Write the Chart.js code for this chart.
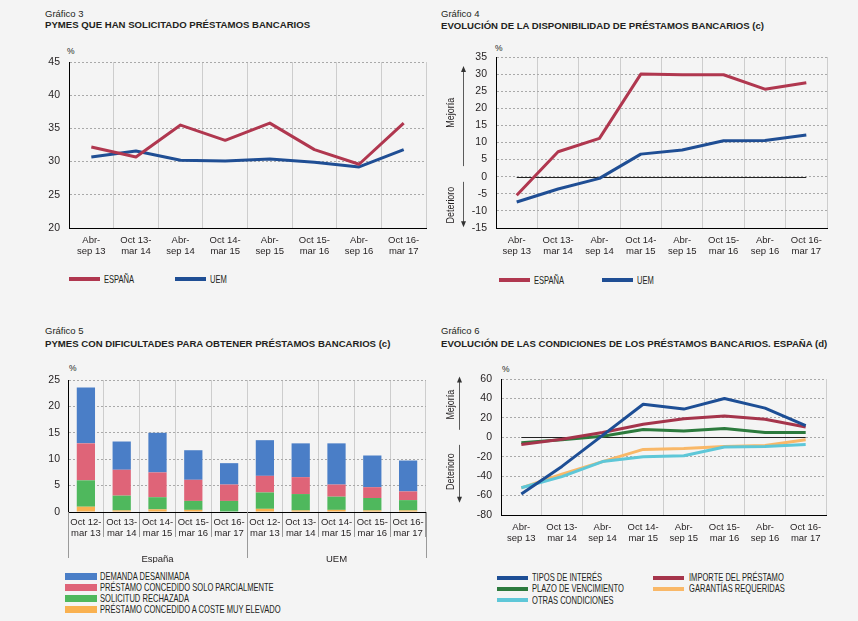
<!DOCTYPE html>
<html>
<head>
<meta charset="utf-8">
<script src="https://cdn.jsdelivr.net/npm/chart.js"></script>
<style>
html,body{margin:0;padding:0;background:#f4f4f4;}
#page{position:relative;width:858px;height:621px;background:#f4f4f4;overflow:hidden;font-family:"Liberation Sans",Arial,Helvetica,sans-serif;color:#231f20;}
.gnum{position:absolute;font-size:9.5px;line-height:11px;white-space:nowrap;}
.gtitle{position:absolute;font-size:9.6px;line-height:11px;font-weight:bold;white-space:nowrap;}
.pct{position:absolute;font-size:8.5px;line-height:10px;}
canvas{position:absolute;}
.legtxt{position:absolute;font-family:"Liberation Sans",Arial,sans-serif;font-size:10.5px;line-height:11px;white-space:nowrap;color:#231f20;transform:scaleX(0.72);transform-origin:0 50%;}
.sw{position:absolute;}
</style>
</head>
<body>
<div id="page">
  <div class="gnum" style="left:45px;top:8px;">Gráfico 3</div>
  <div class="gtitle" style="left:45px;top:19px;">PYMES QUE HAN SOLICITADO PRÉSTAMOS BANCARIOS</div>
  <div class="gnum" style="left:441px;top:8px;">Gráfico 4</div>
  <div class="gtitle" style="left:441px;top:20px;">EVOLUCIÓN DE LA DISPONIBILIDAD DE PRÉSTAMOS BANCARIOS (c)</div>
  <div class="gnum" style="left:45px;top:325px;">Gráfico 5</div>
  <div class="gtitle" style="left:45px;top:338px;">PYMES CON DIFICULTADES PARA OBTENER PRÉSTAMOS BANCARIOS (c)</div>
  <div class="gnum" style="left:441px;top:325px;">Gráfico 6</div>
  <div class="gtitle" style="left:441px;top:338px;">EVOLUCIÓN DE LAS CONDICIONES DE LOS PRÉSTAMOS BANCARIOS. ESPAÑA (d)</div>

  <div class="pct" style="left:67px;top:46px;">%</div>
  <div class="pct" style="left:495px;top:43px;">%</div>
  <div class="pct" style="left:69px;top:363px;">%</div>
  <div class="pct" style="left:502px;top:364px;">%</div>

  <canvas id="c3" width="400" height="225" style="left:30px;top:40px;"></canvas>
  <canvas id="c4" width="420" height="230" style="left:436px;top:35px;"></canvas>
  <canvas id="c5" width="400" height="205" style="left:30px;top:358px;"></canvas>
  <canvas id="c6" width="420" height="195" style="left:436px;top:355px;"></canvas>
  <div id="legends"></div>
</div>
<script>
// ---------- DATA ----------
const periods = [['Abr-','sep 13'],['Oct 13-','mar 14'],['Abr-','sep 14'],['Oct 14-','mar 15'],['Abr-','sep 15'],['Oct 15-','mar 16'],['Abr-','sep 16'],['Oct 16-','mar 17']];

// Gráfico 3
const solicitadoEspana = [32.2, 30.7, 35.5, 33.2, 35.8, 31.8, 29.6, 35.8];
const solicitadoUEM    = [30.7, 31.6, 30.2, 30.1, 30.4, 29.9, 29.2, 31.8];

// Gráfico 4
const disponibilidadEspana = [-5.4, 7.3, 11.2, 30.0, 29.8, 29.8, 25.6, 27.5];
const disponibilidadUEM    = [-7.4, -3.6, -0.5, 6.6, 7.8, 10.5, 10.6, 12.2];

// Gráfico 5
const periods5 = [['Oct 12-','mar 13'],['Oct 13-','mar 14'],['Oct 14-','mar 15'],['Oct 15-','mar 16'],['Oct 16-','mar 17']];
const groups5 = ['España','UEM'];
const categories5 = periods5.concat(periods5);
const demandaDesanimada   = [10.6, 5.35, 7.5, 5.6, 4.05, 6.75, 6.4, 7.8, 6.0, 5.85];
const concedidoParcial    = [7.0, 4.9, 4.7, 4.0, 3.1, 3.15, 3.2, 2.3, 2.05, 1.65];
const solicitudRechazada  = [5.0, 2.8, 2.3, 1.7, 2.0, 3.1, 3.1, 2.5, 2.35, 1.95];
const costeMuyElevado     = [1.0, 0.3, 0.5, 0.4, 0.1, 0.6, 0.3, 0.4, 0.3, 0.3];

// Gráfico 6
const tiposInteres   = [-58.5, -30, 2, 34, 29, 40, 30, 12];
const importePrestamo = [-7.5, -2, 5, 13.5, 19, 22, 18.5, 10.5];
const plazoVencimiento = [-5.5, -2.5, 1, 8, 6.5, 9, 5, 5];
const garantias      = [-52, -38, -25, -12.5, -11.5, -9.5, -8.5, -2.5];
const otrasCondiciones = [-52, -40.5, -25, -20, -19, -10, -9.5, -7.5];

// ---------- STYLE ----------
const FONT = '"Liberation Sans", Arial, sans-serif';
const TXT = '#231f20';
const RED = '#b0374f', BLUE = '#1f4e94';
const VGRID = '#cdcdcd', HGRID = '#a9a9a9';

Chart.defaults.font.family = FONT;
Chart.defaults.color = TXT;

const zeroLine = {
  id:'zeroLine',
  beforeDatasetsDraw(chart){
    const {ctx, scales:{x,y}} = chart;
    const n = chart.data.labels.length;
    const yy = Math.round(y.getPixelForValue(0)) + 0.5;
    ctx.save();
    ctx.strokeStyle = '#222'; ctx.lineWidth = 1;
    ctx.beginPath();
    ctx.moveTo(x.getPixelForValue(0), yy);
    ctx.lineTo(x.getPixelForValue(n-1), yy);
    ctx.stroke();
    ctx.restore();
  }
};

function sideArrows(cfg){
  return {
    id:'sideArrows',
    afterDraw(chart){
      const {ctx, scales:{y}, chartArea} = chart;
      const ax = Math.round(chartArea.left - cfg.arrowOffset) + 0.5;
      const tx = chartArea.left - cfg.textOffset;
      ctx.save();
      ctx.strokeStyle = '#333'; ctx.fillStyle = '#333'; ctx.lineWidth = 0.8;
      cfg.items.forEach(it => {
        const y1 = y.getPixelForValue(it.from), y2 = y.getPixelForValue(it.to);
        const dir = y2 < y1 ? -1 : 1;
        ctx.beginPath(); ctx.moveTo(ax, y1); ctx.lineTo(ax, y2 - dir*3); ctx.stroke();
        ctx.beginPath(); ctx.moveTo(ax, y2); ctx.lineTo(ax - 2.5, y2 - dir*6); ctx.lineTo(ax + 2.5, y2 - dir*6); ctx.closePath(); ctx.fill();
        const ym = y.getPixelForValue(it.textAt);
        ctx.save();
        ctx.translate(tx, ym); ctx.rotate(-Math.PI/2); ctx.scale(0.85, 1);
        ctx.font = '10.5px ' + FONT;
        ctx.fillStyle = TXT; ctx.textAlign = 'center'; ctx.textBaseline = 'middle';
        ctx.fillText(it.label, 0, 0);
        ctx.restore();
      });
      ctx.restore();
    }
  };
}

const groupLines = {
  id:'groupLines',
  afterDraw(chart){
    const {ctx, scales:{x}, chartArea} = chart;
    const per = periods5.length;
    const bounds = [x.left];
    for (let g = 1; g < groups5.length; g++) bounds.push((x.getPixelForValue(g*per-1) + x.getPixelForValue(g*per))/2);
    bounds.push(x.right);
    ctx.save();
    ctx.strokeStyle = '#9a9a9a'; ctx.lineWidth = 1;
    bounds.forEach(b => {
      const bx = Math.round(b) + 0.5;
      ctx.beginPath(); ctx.moveTo(bx, chartArea.bottom); ctx.lineTo(bx, chartArea.bottom + 46); ctx.stroke();
    });
    ctx.restore();
  }
};

const fixW = w => s => { s.width = w; };
const fixH = h => s => { s.height = h; };

function lineOptions(yMin, yMax, step, yW, xH, pad){
  return {
    responsive:false, animation:false, devicePixelRatio:1,
    layout:{padding:pad},
    plugins:{legend:{display:false}, tooltip:{enabled:false}},
    elements:{point:{radius:0}, line:{tension:0, borderWidth:3, borderJoinStyle:'round', borderCapStyle:'butt'}},
    scales:{
      x:{
        offset:true,
        grid:{offset:true, color:VGRID, lineWidth:1, drawTicks:false},
        border:{color:'#000', width:1},
        ticks:{padding:7, font:{size:9.5, lineHeight:1.18}, color:TXT, maxRotation:0, autoSkip:false},
        afterFit:fixH(xH)
      },
      y:{
        min:yMin, max:yMax,
        grid:{color:HGRID, lineWidth:1, drawTicks:false},
        border:{color:'#000', width:1, dash:[2,2]},
        ticks:{stepSize:step, padding:9, font:{size:10.5}, color:TXT},
        afterFit:fixW(yW)
      }
    }
  };
}

// Gráfico 3
new Chart(document.getElementById('c3'), {
  type:'line',
  data:{labels:periods, datasets:[
    {label:'ESPAÑA', data:solicitadoEspana, borderColor:RED},
    {label:'UEM', data:solicitadoUEM, borderColor:BLUE}
  ]},
  options:lineOptions(20, 45, 5, 39, 37, {top:22, right:4, left:0, bottom:0})
});

// Gráfico 4
new Chart(document.getElementById('c4'), {
  type:'line',
  data:{labels:periods, datasets:[
    {label:'ESPAÑA', data:disponibilidadEspana, borderColor:RED},
    {label:'UEM', data:disponibilidadUEM, borderColor:BLUE}
  ]},
  options:lineOptions(-15, 35, 5, 60, 37, {top:22, right:29, left:0, bottom:0}),
  plugins:[zeroLine, sideArrows({arrowOffset:33, textOffset:45, items:[
    {from:3.1, to:32.4, textAt:18.7, label:'Mejoría'},
    {from:-1.5, to:-14.8, textAt:-8.3, label:'Deterioro'}
  ]})]
});

// Gráfico 5
new Chart(document.getElementById('c5'), {
  type:'bar',
  data:{labels:categories5, datasets:[
    {label:'PRÉSTAMO CONCEDIDO A COSTE MUY ELEVADO', data:costeMuyElevado, backgroundColor:'#f9b150'},
    {label:'SOLICITUD RECHAZADA', data:solicitudRechazada, backgroundColor:'#4fb85d'},
    {label:'PRÉSTAMO CONCEDIDO SOLO PARCIALMENTE', data:concedidoParcial, backgroundColor:'#df6478'},
    {label:'DEMANDA DESANIMADA', data:demandaDesanimada, backgroundColor:'#4a7ec7'}
  ]},
  options:{
    responsive:false, animation:false, devicePixelRatio:1,
    layout:{padding:{top:22, right:4, left:0, bottom:0}},
    plugins:{legend:{display:false}, tooltip:{enabled:false}},
    datasets:{bar:{barPercentage:0.51, categoryPercentage:1, borderWidth:0}},
    scales:{
      x:{
        stacked:true, offset:true, weight:0,
        grid:{offset:true, color:VGRID, lineWidth:1, drawTicks:true, tickLength:25, tickColor:'#9a9a9a'},
        border:{color:'#000', width:1},
        ticks:{padding:-20, font:{size:9.5, lineHeight:1.16}, color:TXT, maxRotation:0, autoSkip:false},
        afterFit:fixH(25)
      },
      grp:{
        type:'category', labels:groups5, position:'bottom', offset:true, weight:1,
        grid:{display:false}, border:{display:false},
        ticks:{padding:9, font:{size:9.5}, color:TXT, maxRotation:0},
        afterFit:fixH(26)
      },
      y:{
        stacked:true, min:0, max:25,
        grid:{color:HGRID, lineWidth:1, drawTicks:false},
        border:{color:'#000', width:1, dash:[2,2]},
        ticks:{stepSize:5, padding:8, font:{size:10.5}, color:TXT},
        afterFit:fixW(38)
      }
    }
  },
  plugins:[groupLines]
});

// Gráfico 6
const c6Series = [
  {label:'TIPOS DE INTERÉS', data:tiposInteres, borderColor:'#1d4e95'},
  {label:'IMPORTE DEL PRÉSTAMO', data:importePrestamo, borderColor:'#a5344b'},
  {label:'PLAZO DE VENCIMIENTO', data:plazoVencimiento, borderColor:'#2c7a3d'},
  {label:'OTRAS CONDICIONES', data:otrasCondiciones, borderColor:'#5ec7d8'},
  {label:'GARANTÍAS REQUERIDAS', data:garantias, borderColor:'#f9b868'}
];
new Chart(document.getElementById('c6'), {
  type:'line',
  data:{labels:periods, datasets:c6Series},
  options:lineOptions(-80, 60, 20, 65, 35, {top:24, right:30, left:0, bottom:0}),
  plugins:[zeroLine, sideArrows({arrowOffset:42, textOffset:50, items:[
    {from:7.7, to:62.5, textAt:33.5, label:'Mejoría'},
    {from:-7.8, to:-67.3, textAt:-35.3, label:'Deterioro'}
  ]})]
});

// ---------- HTML legends ----------
const leg = document.getElementById('legends');
function swatch(x, yc, w, h, color, text, tx){
  const s = document.createElement('div');
  s.className = 'sw';
  s.style.cssText = `left:${x}px;top:${yc - h/2}px;width:${w}px;height:${h}px;background:${color};`;
  leg.appendChild(s);
  const t = document.createElement('div');
  t.className = 'legtxt';
  t.style.cssText = `left:${tx}px;top:${yc - 5.5}px;`;
  t.textContent = text;
  leg.appendChild(t);
}
swatch(69, 279, 31, 3.3, RED, 'ESPAÑA', 104);
swatch(175, 279, 31, 3.3, BLUE, 'UEM', 210);
swatch(499, 280, 31, 3.3, RED, 'ESPAÑA', 534);
swatch(602, 280, 31, 3.3, BLUE, 'UEM', 637);

const leg5 = [
  ['DEMANDA DESANIMADA', '#4a7ec7'],
  ['PRÉSTAMO CONCEDIDO SOLO PARCIALMENTE', '#df6478'],
  ['SOLICITUD RECHAZADA', '#4fb85d'],
  ['PRÉSTAMO CONCEDIDO A COSTE MUY ELEVADO', '#f9b150']
];
leg5.forEach((l, i) => swatch(65, 576.7 + i*11, 32, 7, l[1], l[0], 100));

const leg6 = [
  ['TIPOS DE INTERÉS', '#1d4e95', 497, 577.7, 532],
  ['IMPORTE DEL PRÉSTAMO', '#a5344b', 653, 577.7, 689],
  ['PLAZO DE VENCIMIENTO', '#2c7a3d', 497, 588.7, 532],
  ['GARANTÍAS REQUERIDAS', '#f9b868', 653, 588.7, 689],
  ['OTRAS CONDICIONES', '#5ec7d8', 497, 600, 532]
];
leg6.forEach(l => swatch(l[2], l[3], 31, 4, l[1], l[0], l[4]));
</script>
</body>
</html>
